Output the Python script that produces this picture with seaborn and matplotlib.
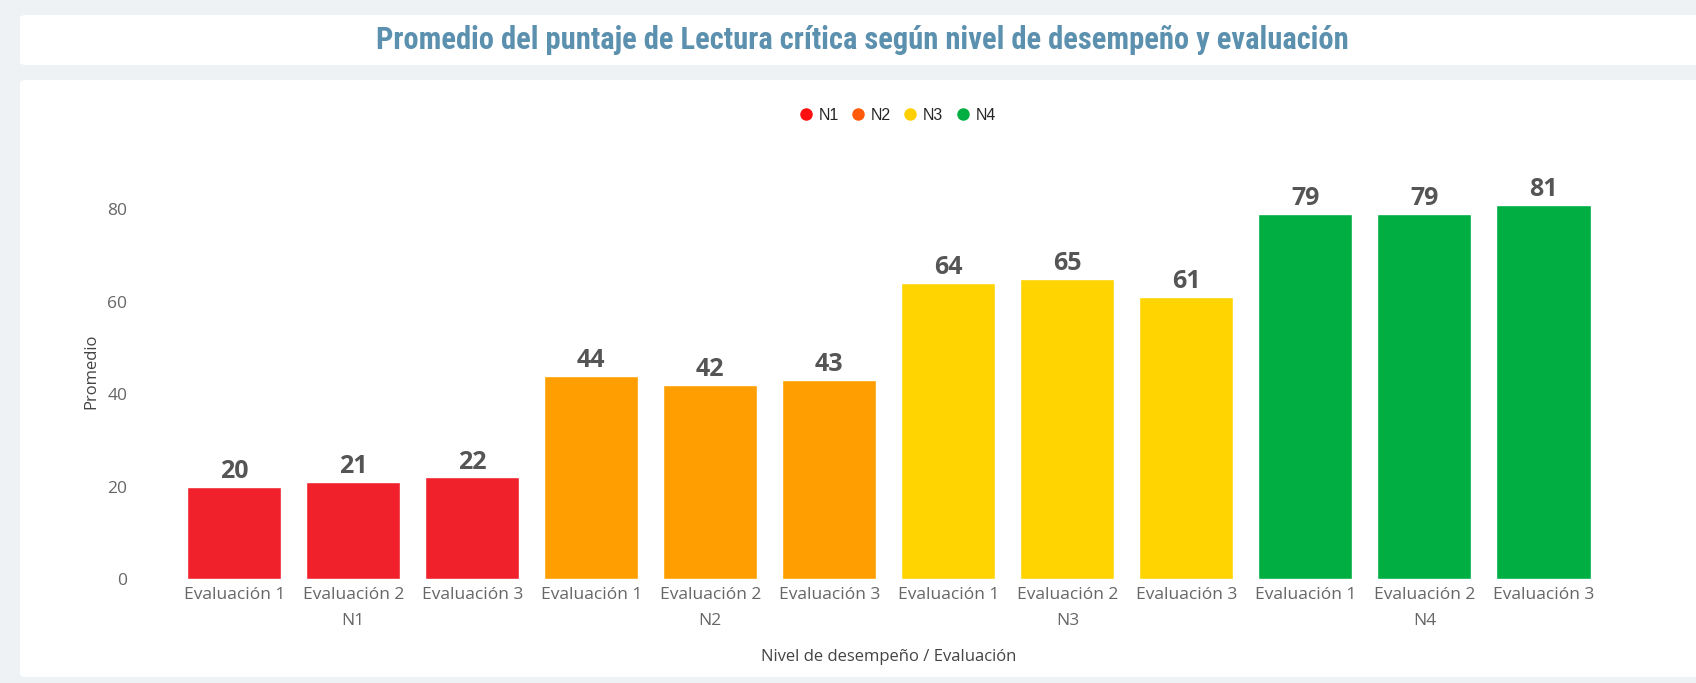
import matplotlib
matplotlib.use("Agg")
import matplotlib.pyplot as plt
from matplotlib.patches import FancyBboxPatch
from matplotlib.lines import Line2D
from matplotlib import transforms
import seaborn as sns
import pandas as pd

# Data
niveles = ["N1", "N2", "N3", "N4"]
evaluaciones = ["Evaluación 1", "Evaluación 2", "Evaluación 3"]
promedio_n1 = [20, 21, 22]
promedio_n2 = [44, 42, 43]
promedio_n3 = [64, 65, 61]
promedio_n4 = [79, 79, 81]

bar_colors = {"N1": "#F0212B", "N2": "#FF9E00", "N3": "#FFD400", "N4": "#00AE42"}
legend_colors = {"N1": "#FF1010", "N2": "#FF5B0A", "N3": "#FFD000", "N4": "#00AE42"}

rows = []
for nivel, vals in zip(niveles, [promedio_n1, promedio_n2, promedio_n3, promedio_n4]):
    for ev, v in zip(evaluaciones, vals):
        rows.append({"nivel": nivel, "evaluacion": ev, "clave": f"{nivel}|{ev}", "promedio": v})
df = pd.DataFrame(rows)
order = list(df["clave"])

sns.set_theme(style="white")
plt.rcParams["font.family"] = ["Open Sans", "DejaVu Sans"]

fig = plt.figure(figsize=(16.96, 6.83), dpi=100, facecolor="#EEF2F5")

# Background cards
W, H = 1696, 683
def card(x0, y0, x1, y1):
    p = FancyBboxPatch((x0 / W, 1 - y1 / H), (x1 - x0) / W, (y1 - y0) / H,
                       boxstyle="round,pad=0,rounding_size=0.004",
                       transform=fig.transFigure, facecolor="white",
                       edgecolor="none", zorder=-10)
    fig.patches.append(p)

card(20, 15, 1710, 65)
card(20, 80, 1710, 677)

fig.text(862 / W, 1 - 40 / H,
         "Promedio del puntaje de Lectura crítica según nivel de desempeño y evaluación",
         ha="center", va="center", fontsize=22, fontweight="bold",
         color="#5B90AE", family=["Roboto Condensed", "DejaVu Sans"])

ax = fig.add_axes([174.7 / W, 104 / H, (1603 - 174.7) / W, (579 - 163) / H])
ax.set_facecolor("white")
ax.set_zorder(1)

sns.barplot(data=df, x="clave", y="promedio", hue="nivel", order=order,
            palette=bar_colors, dodge=False, width=0.79, legend=False,
            saturation=1, ax=ax)

ax.set_ylim(0, 90)
ax.set_xlim(-0.5, len(order) - 0.5)
ax.set_yticks([0, 20, 40, 60, 80])
ax.tick_params(axis="y", labelsize=12.5, labelcolor="#666666", length=0, pad=34)
ax.tick_params(axis="x", labelsize=12.5, labelcolor="#666666", length=0, pad=6)
ax.set_xticks(range(len(order)))
ax.set_xticklabels(list(df["evaluacion"]))
for s in ax.spines.values():
    s.set_visible(False)
ax.grid(False)

# Value labels
for i, v in enumerate(df["promedio"]):
    ax.annotate(f"{v:d}", (i, v), xytext=(0, 2), textcoords="offset points",
                ha="center", va="bottom", fontsize=18, fontweight="bold",
                color="#555555")

# Group labels under the middle evaluation
trans = transforms.blended_transform_factory(ax.transData, ax.transAxes)
for k, nivel in enumerate(niveles):
    ax.text(k * 3 + 1, -42 / (579 - 163), nivel, transform=trans,
            ha="center", va="center", fontsize=12.5, color="#666666")

ax.set_xlabel("Nivel de desempeño / Evaluación", fontsize=12, color="#444444",
              labelpad=33)
ax.set_ylabel("Promedio", fontsize=12, color="#444444", labelpad=6)

# Legend
handles = [Line2D([0], [0], marker="o", linestyle="", markersize=9,
                  markerfacecolor=legend_colors[n], markeredgecolor="none",
                  label=n) for n in niveles]
fig.legend(handles=handles, loc="center", bbox_to_anchor=(897 / W, 1 - 115 / H),
           ncol=4, frameon=False, handletextpad=0.3,
           columnspacing=0.7, handlelength=1.0,
           prop={"family": ["Liberation Sans", "DejaVu Sans"], "size": 11.5})

fig.savefig("out.png", dpi=100, facecolor=fig.get_facecolor())
